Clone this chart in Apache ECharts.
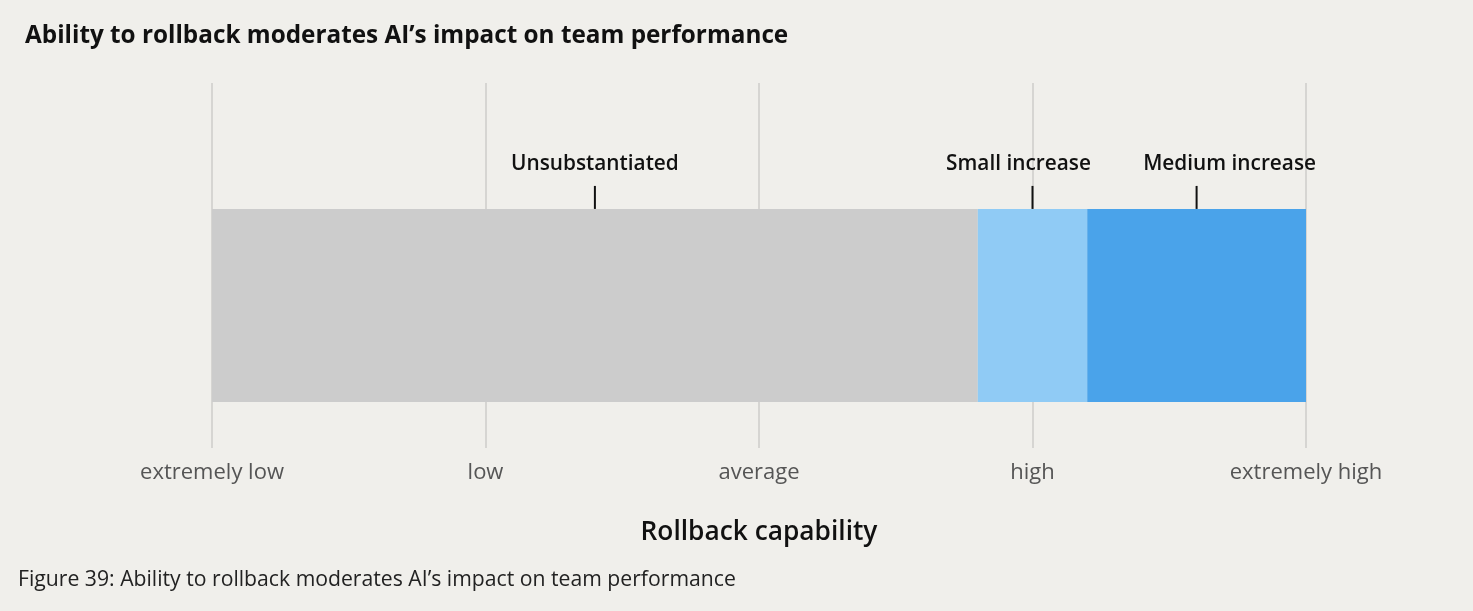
<!DOCTYPE html>
<html>
<head>
<meta charset="utf-8">
<script src="https://cdn.jsdelivr.net/npm/echarts@6/dist/echarts.min.js"></script>
<style>
html,body{margin:0;padding:0;background:#f0efeb;}
#chart{width:1473px;height:611px;}
</style>
</head>
<body>
<div id="chart"></div>
<script>
// Data
const tickLabels = ['extremely low', 'low', 'average', 'high', 'extremely high'];
const segmentNames = ['Unsubstantiated', 'Small increase', 'Medium increase'];
const segmentStart = [0, 2.8, 3.2];
const segmentEnd = [2.8, 3.2, 4.0];
const segmentColors = ['#cccccc', '#90cbf5', '#4aa3ea'];

const chart = echarts.init(document.getElementById('chart'));
const FONT = '"Open Sans", Roboto, sans-serif';
// horizontal nudges of the labels (pixels) so neighbouring labels do not collide
const LABEL_NUDGE = [0, -14, 33];

const segData = segmentNames.map((n, i) => [segmentStart[i], segmentEnd[i], i]);

chart.setOption({
  backgroundColor: '#f0efeb',
  animation: false,
  title: [
    {
      text: 'Ability to rollback moderates AI\u2019s impact on team performance',
      left: 20, top: 19,
      textStyle: {fontFamily: FONT, fontSize: 24.3, fontWeight: 'bold', color: '#111'}
    },
    {
      text: 'Figure 39: Ability to rollback moderates AI\u2019s impact on team performance',
      left: 13, top: 564,
      textStyle: {fontFamily: FONT, fontSize: 21.2, fontWeight: 'normal', color: '#222'}
    }
  ],
  grid: {left: 212, right: 167, top: 83, bottom: 163},
  xAxis: {
    type: 'value', min: 0, max: 4, interval: 1,
    name: 'Rollback capability', nameLocation: 'middle', nameGap: 72,
    nameTextStyle: {fontFamily: FONT, fontSize: 26.3, fontWeight: 600, color: '#111'},
    axisLine: {show: false}, axisTick: {show: false},
    axisLabel: {
      margin: 14, fontFamily: FONT, fontSize: 22, color: '#555',
      formatter: v => tickLabels[Math.round(v)]
    },
    splitLine: {show: true, lineStyle: {color: '#d6d5d2', width: 2}}
  },
  yAxis: {type: 'value', min: 0, max: 1, show: false, splitLine: {show: false}},
  series: [{
    type: 'custom',
    data: segData,
    encode: {x: [0, 1]},
    renderItem: function (params, api) {
      const s = api.value(0), e = api.value(1), i = api.value(2);
      const p0 = api.coord([s, 0.655]);
      const p1 = api.coord([e, 0.126]);
      const mid = api.coord([(s + e) / 2, 0.655]);
      return {
        type: 'group',
        children: [
          {type: 'rect', shape: {x: p0[0], y: p0[1], width: p1[0] - p0[0], height: p1[1] - p0[1]},
           style: {fill: segmentColors[i]}},
          {type: 'line', shape: {x1: mid[0], y1: p0[1] - 23, x2: mid[0], y2: p0[1]},
           style: {stroke: '#111', lineWidth: 2}},
          {type: 'text', x: mid[0] + LABEL_NUDGE[i], y: p0[1] - 45,
           style: {text: segmentNames[i], fontFamily: FONT, fontSize: 20.8, fontWeight: 600,
                   fill: '#111', align: 'center', verticalAlign: 'middle'}}
        ]
      };
    }
  }]
});
</script>
</body>
</html>
